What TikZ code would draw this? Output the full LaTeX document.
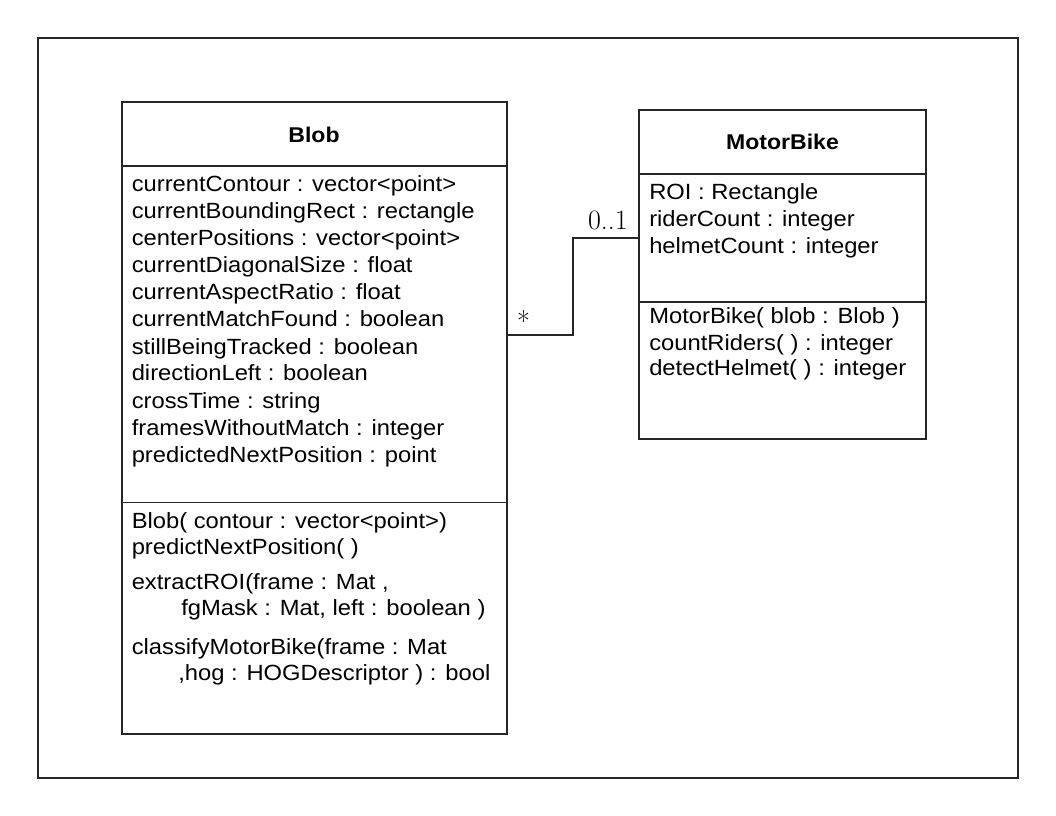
\documentclass[tikz,border=0pt]{standalone}
\usepackage{fontspec}
\setsansfont{Liberation Sans}[FakeStretch=1.08]
\begin{document}
\begin{tikzpicture}[x=0.75pt,y=-0.75pt,
  box/.style={draw=black!85, line width=0.9pt, inner sep=0pt, fill=none},
  sep/.style={draw=black!85, line width=0.9pt},
  conn/.style={draw=black!85, line width=0.9pt},
  txt/.style={anchor=base west, inner sep=0pt, font=\sffamily\fontsize{16.5}{19}\selectfont},
  ttl/.style={anchor=base, inner sep=0pt, font=\sffamily\bfseries\fontsize{16}{19}\selectfont},
  mult/.style={inner sep=0pt, font=\fontsize{21}{24}\selectfont}]
\useasboundingbox (0,0) rectangle (1056,816);
\node[box, minimum width=735pt, minimum height=555pt] (frame) at (528,408) {};
% Blob class
\node[box, minimum width=288.75pt, minimum height=474pt] (blob) at (314.5,418) {};
\coordinate (bh) at (0,166);
\coordinate (bd) at (0,502.5);
\draw[sep] (blob.west |- bh) -- (blob.east |- bh);
\draw[sep] (blob.west |- bd) -- (blob.east |- bd);
\node[ttl] (blobtitle) at (314,143) {Blob};
\foreach \t [count=\i from 0] in {currentContour : vector<point>, currentBoundingRect : rectangle, centerPositions : vector<point>, currentDiagonalSize : float, currentAspectRatio : float, currentMatchFound : boolean, stillBeingTracked : boolean, directionLeft : boolean, crossTime : string, framesWithoutMatch : integer, predictedNextPosition : point}
  \node[txt] (ba\i) at (131.5,192+27*\i) {\t};
\node[txt] (bm1) at (131.5,528) {Blob( contour : vector<point>)};
\node[txt] (bm2) at (131.5,554) {predictNextPosition( )};
\node[txt] (bm3) at (131.5,589) {extractROI(frame : Mat ,};
\node[txt] (bm4) at (181,615) {fgMask : Mat, left : boolean )};
\node[txt] (bm5) at (131.5,654) {classifyMotorBike(frame : Mat};
\node[txt] (bm6) at (178,680) {,hog : HOGDescriptor ) : bool};
% MotorBike class
\node[box, minimum width=215.25pt, minimum height=246.75pt] (mb) at (782.5,274.5) {};
\coordinate (mh) at (0,174);
\coordinate (md) at (0,302);
\draw[sep] (mb.west |- mh) -- (mb.east |- mh);
\draw[sep] (mb.west |- md) -- (mb.east |- md);
\node[ttl] (mbtitle) at (782.5,150) {MotorBike};
\node[txt] (ma1) at (649,200) {ROI : Rectangle};
\node[txt] (ma2) at (649,227) {riderCount : integer};
\node[txt] (ma3) at (649,254) {helmetCount : integer};
\node[txt] (mm1) at (649,324) {MotorBike( blob : Blob )};
\node[txt] (mm2) at (649,350) {countRiders( ) : integer};
\node[txt] (mm3) at (649,376) {detectHelmet( ) : integer};
% association
\coordinate (jA) at (0,335);
\coordinate (jB) at (0,238);
\coordinate (bend) at (573,290);
\draw[conn] (blob.east |- jA) -| (bend) |- (mb.west |- jB);
\node[mult, anchor=base] (mstar) at (523.5,332) {*};
\node[mult, anchor=base east] (mone) at (628,230) {0..1};
\end{tikzpicture}
\end{document}
